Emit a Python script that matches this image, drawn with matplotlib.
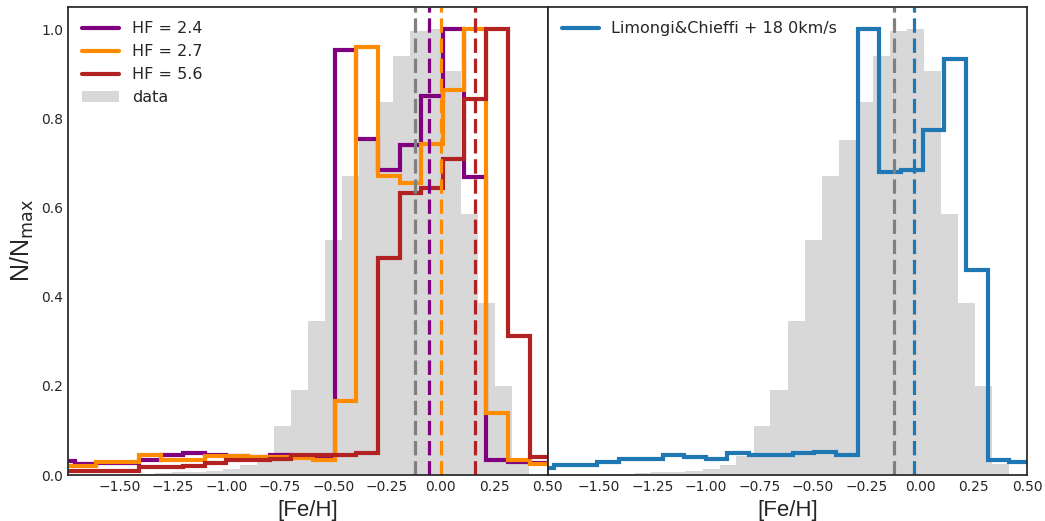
import numpy as np
import matplotlib
matplotlib.use("Agg")
import matplotlib.pyplot as plt

# model bins (shared by all model histograms)
model_edges = [-1.810, -1.709, -1.608, -1.507, -1.406, -1.304, -1.203, -1.102,
               -1.001, -0.900, -0.798, -0.697, -0.596, -0.495, -0.394, -0.292,
               -0.191, -0.090, 0.011, 0.112, 0.214, 0.315, 0.416, 0.517]

hf24 = [0.031, 0.024, 0.028, 0.028, 0.034, 0.045, 0.049, 0.045, 0.043, 0.040,
        0.046, 0.042, 0.040, 0.953, 0.753, 0.685, 0.740, 0.850, 1.000, 0.668,
        0.035, 0.030, 0.027]
hf27 = [0.020, 0.020, 0.030, 0.030, 0.045, 0.035, 0.034, 0.044, 0.044, 0.040,
        0.040, 0.038, 0.035, 0.166, 0.960, 0.670, 0.655, 0.742, 0.863, 1.000,
        0.139, 0.034, 0.026]
hf56 = [0.010, 0.010, 0.010, 0.010, 0.019, 0.019, 0.021, 0.028, 0.034, 0.034,
        0.037, 0.045, 0.045, 0.045, 0.050, 0.487, 0.633, 0.644, 0.708, 0.843,
        1.000, 0.311, 0.040]
lc18 = [0.017, 0.022, 0.022, 0.030, 0.037, 0.037, 0.046, 0.041, 0.037, 0.050,
        0.045, 0.045, 0.049, 0.052, 0.046, 1.000, 0.680, 0.684, 0.773, 0.934,
        0.459, 0.035, 0.030]

# observed distribution
data_edges = [-1.732, -1.652, -1.573, -1.493, -1.414, -1.334, -1.255, -1.175,
              -1.096, -1.016, -0.937, -0.858, -0.778, -0.699, -0.619, -0.540,
              -0.460, -0.381, -0.301, -0.222, -0.142, -0.063, 0.017, 0.096,
              0.176, 0.255, 0.335, 0.414]
data_vals = [0.0, 0.001, 0.001, 0.002, 0.002, 0.004, 0.0075, 0.0075, 0.009,
             0.013, 0.022, 0.043, 0.111, 0.190, 0.346, 0.527, 0.670, 0.751,
             0.837, 0.940, 0.996, 1.000, 0.906, 0.586, 0.387, 0.200, 0.025]

# mean [Fe/H] markers
mean_data = -0.12
mean_hf = [-0.055, 0.0, 0.16]
mean_lc = -0.03

hf_labels = ['HF = 2.4', 'HF = 2.7', 'HF = 5.6']
hf_colors = ['purple', 'darkorange', 'firebrick']
lc_label = 'Limongi&Chieffi + 18 0km/s'

plt.style.use('seaborn-v0_8-white')
plt.rcParams['font.family'] = ['DejaVu Sans']
plt.rcParams['xtick.labelsize'] = 10
plt.rcParams['ytick.labelsize'] = 10

fig, (ax1, ax2) = plt.subplots(1, 2, figsize=(10.45, 5.21), dpi=100, sharey=True)
fig.subplots_adjust(left=0.065, right=0.983, top=0.987, bottom=0.088, wspace=0)

grey = '#d8d8d8'
dash = (0, (4.5, 1.8))

# left panel
ax1.stairs(data_vals, data_edges, fill=True, color=grey, label='data')
for vals, lab, c in zip([hf24, hf27, hf56], hf_labels, hf_colors):
    ax1.stairs(vals, model_edges, color=c, lw=3.0, label=lab)
ax1.axvline(mean_data, color='gray', ls=dash, lw=2.3)
for m, c in zip(mean_hf, hf_colors):
    ax1.axvline(m, color=c, ls=dash, lw=2.3)

h, l = ax1.get_legend_handles_labels()
ax1.legend(h[1:] + h[:1], l[1:] + l[:1], loc='upper left', fontsize=11.5,
           handlelength=2.3)

# right panel
ax2.stairs(data_vals, data_edges, fill=True, color=grey)
ax2.stairs(lc18, model_edges, color='#1f77b4', lw=3.0, label=lc_label)
ax2.axvline(mean_data, color='gray', ls=dash, lw=2.3)
ax2.axvline(mean_lc, color='#1f77b4', ls=dash, lw=2.3)
ax2.legend(loc='upper left', fontsize=11.5, handlelength=2.3)

for ax in (ax1, ax2):
    ax.set_xlim(-1.74, 0.5)
    ax.set_ylim(0, 1.05)
    ax.set_xticks(np.arange(-1.5, 0.51, 0.25))
    ax.set_xlabel('[Fe/H]', fontsize=16, family='Liberation Sans')
    for s in ax.spines.values():
        s.set_color('0.15')
ax1.set_yticks(np.arange(0, 1.01, 0.2))
ax1.set_ylabel(r'N/N$_{\rm max}$', fontsize=18, family='Liberation Sans')

fig.savefig('out.png', dpi=100)
